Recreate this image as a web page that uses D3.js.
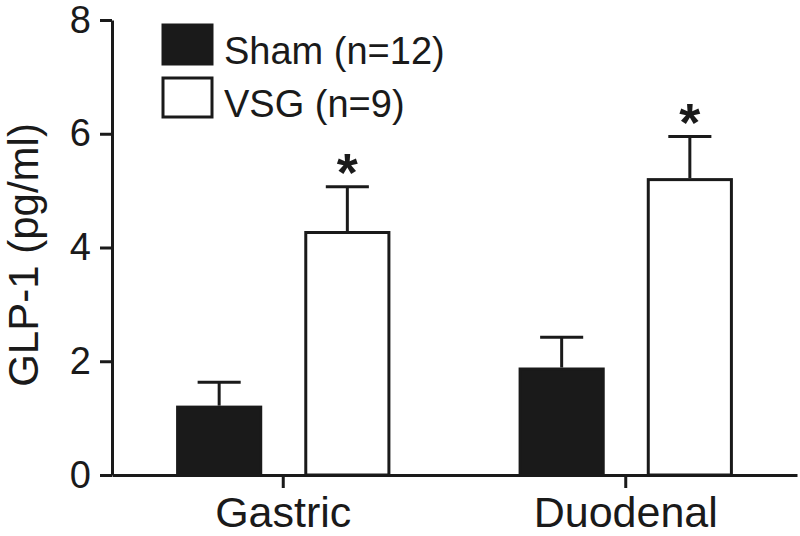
<!DOCTYPE html>
<html>
<head>
<meta charset="utf-8">
<script src="https://cdn.jsdelivr.net/npm/d3@7"></script>
<style>
  html, body { margin: 0; padding: 0; background: #fff; }
  svg { display: block; font-family: "Liberation Sans", Arial, sans-serif; }
</style>
</head>
<body>
<svg id="chart" width="800" height="536"></svg>
<script>
const categories = ["Gastric", "Duodenal"];
const series = ["Sham (n=12)", "VSG (n=9)"];
const shamMean = [1.22, 1.89];
const shamSem = [0.41, 0.53];
const vsgMean = [4.29, 5.22];
const vsgSem = [0.78, 0.73];
const significant = [true, true];
const yTicks = [0, 2, 4, 6, 8];

const ink = "#1a1a1a";
const svg = d3.select("#chart");

const x0 = d3.scaleBand().domain(categories).range([112, 797]).paddingInner(0).paddingOuter(0);
const x1 = d3.scaleBand().domain(series).range([0, x0.bandwidth()]).paddingInner(0.328).paddingOuter(0.5);
const y = d3.scaleLinear().domain([0, 8]).range([475, 20]);

const rows = [];
categories.forEach((c, i) => {
  rows.push({cat: c, s: series[0], mean: shamMean[i], sem: shamSem[i], fill: ink, sig: false});
  rows.push({cat: c, s: series[1], mean: vsgMean[i], sem: vsgSem[i], fill: "#fff", sig: significant[i]});
});

// error bars (drawn first, bars cover lower part)
const eb = svg.append("g");
rows.forEach(d => {
  const cx = x0(d.cat) + x1(d.s) + x1.bandwidth() / 2;
  const capHalf = x1.bandwidth() / 4;
  eb.append("line").attr("x1", cx).attr("x2", cx)
    .attr("y1", y(d.mean)).attr("y2", y(d.mean + d.sem))
    .attr("stroke", ink).attr("stroke-width", 3);
  eb.append("line").attr("x1", cx - capHalf).attr("x2", cx + capHalf)
    .attr("y1", y(d.mean + d.sem)).attr("y2", y(d.mean + d.sem))
    .attr("stroke", ink).attr("stroke-width", 3);
  if (d.sig) {
    svg.append("text").attr("x", cx).attr("y", y(d.mean + d.sem) + 4)
      .attr("text-anchor", "middle").attr("font-size", 54).attr("font-weight", "bold")
      .attr("fill", ink).text("*");
  }
});

// bars
svg.append("g").selectAll("rect").data(rows).join("rect")
  .attr("x", d => x0(d.cat) + x1(d.s) + 1.5)
  .attr("width", x1.bandwidth() - 3)
  .attr("y", d => y(d.mean) + 1.5)
  .attr("height", d => y(0) - y(d.mean) - 1.5)
  .attr("fill", d => d.fill)
  .attr("stroke", ink).attr("stroke-width", 3);

// y axis
const yAxis = svg.append("g").attr("transform", "translate(112,0)")
  .call(d3.axisLeft(y).tickValues(yTicks).tickFormat(d3.format("d")).tickSizeInner(12).tickSizeOuter(0).tickPadding(9));
yAxis.select(".domain").attr("stroke", ink).attr("stroke-width", 3);
yAxis.selectAll(".tick line").attr("stroke", ink).attr("stroke-width", 3);
yAxis.selectAll(".tick text").attr("font-size", 38).attr("fill", ink)
  .attr("font-family", "Liberation Sans, Arial, sans-serif");

// x axis
const xAxis = svg.append("g").attr("transform", "translate(0,475)")
  .call(d3.axisBottom(x0).tickSizeInner(13).tickSizeOuter(0).tickPadding(8));
xAxis.select(".domain").attr("stroke", ink).attr("stroke-width", 3);
xAxis.selectAll(".tick line").attr("stroke", ink).attr("stroke-width", 3);
xAxis.selectAll(".tick text").attr("font-size", 43).attr("fill", ink)
  .attr("font-family", "Liberation Sans, Arial, sans-serif");

// y label
svg.append("text").attr("transform", "translate(38,255) rotate(-90)")
  .attr("text-anchor", "middle").attr("font-size", 42).attr("fill", ink)
  .text("GLP-1 (pg/ml)");

// legend
const legend = svg.append("g");
series.forEach((s, i) => {
  const top = 25 + i * 53;
  legend.append("rect").attr("x", 163).attr("y", top).attr("width", 49).attr("height", 39)
    .attr("fill", i === 0 ? ink : "#fff").attr("stroke", ink).attr("stroke-width", 3);
  legend.append("text").attr("x", 224).attr("y", top + 39).attr("font-size", 38)
    .attr("fill", ink).text(s);
});
</script>
</body>
</html>
